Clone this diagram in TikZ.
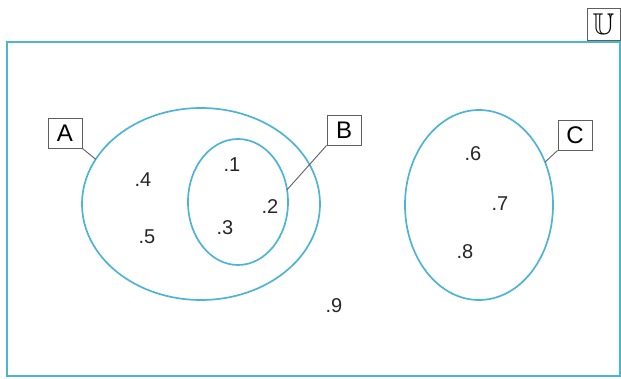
\documentclass[tikz,border=0pt]{standalone}
\usepackage{fontspec}
\setmainfont{Liberation Sans}
\usepackage{amsmath, amssymb}
\usetikzlibrary{shapes.geometric,positioning}
\definecolor{setblue}{RGB}{78,180,212}
\definecolor{boxgray}{RGB}{95,95,95}

\begin{document}
\begin{tikzpicture}[
      x=1pt, y=1pt,
      font=\fontsize{20}{22}\selectfont,
      setline/.style={draw=setblue, line width=1.7pt, ellipse, inner sep=0pt, outer sep=0pt},
      labelbox/.style={draw=boxgray, line width=0.9pt, fill=white, inner sep=0pt,
                       minimum width=34pt, minimum height=30pt, text=black,
                       font=\fontsize{24}{26}\selectfont},
      leader/.style={boxgray, line width=0.9pt},
      num/.style={inner sep=1pt, text=black!85}
  ]
  \useasboundingbox (0,0) rectangle (621,378);
  \draw[setblue, line width=1.7pt] (7,2) rectangle (620,336);
  \node[labelbox, minimum width=33pt, minimum height=32pt, font=\fontsize{30}{32}\selectfont] (labU) at (603.5,354) {$\mathbb{U}$};

  \node[setline, minimum width=238pt, minimum height=192pt] (setA) at (201,174) {};
  \node[setline, minimum width=100pt, minimum height=126pt] (setB) at (238,176) {};
  \node[setline, minimum width=148pt, minimum height=190pt] (setC) at (479,173) {};

  \node[labelbox] (labA) at (65,245) {A};
  \node[labelbox] (labB) at (344,248) {B};
  \node[labelbox] (labC) at (575,243) {C};

  \draw[leader] (labA.south east) -- (setA.157);
  \draw[leader] (labB.south west) -- (setB.14);
  \draw[leader] (labC.south west) -- (setC.33);

  \node[num] (n1) at (232,213) {.1};
  \node[num] (n2) at (270,171) {.2};
  \node[num] (n3) at (225,150) {.3};
  \node[num] (n4) at (143,198) {.4};
  \node[num] (n5) at (147,141) {.5};
  \node[num] (n6) at (473,224) {.6};
  \node[num] (n7) at (500,174) {.7};
  \node[num] (n8) at (465,126) {.8};
  \node[num] (n9) at (334,72) {.9};
\end{tikzpicture}
\end{document}
